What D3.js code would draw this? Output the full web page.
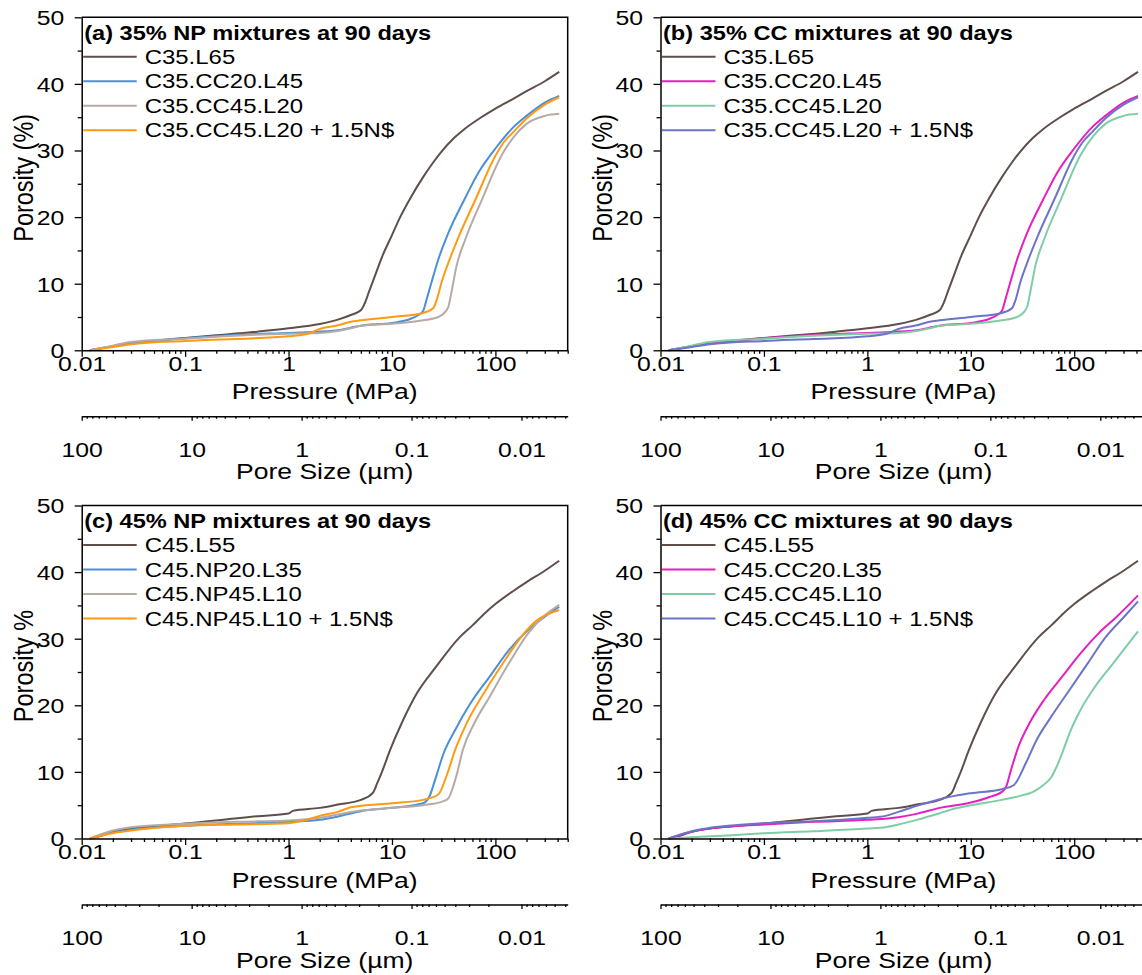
<!DOCTYPE html>
<html>
<head>
<meta charset="utf-8">
<script src="https://cdn.jsdelivr.net/npm/d3@7"></script>
<style>
  html, body { margin: 0; padding: 0; background: #fff; }
  svg { display: block; font-family: "Liberation Sans", Arial, sans-serif; }
</style>
</head>
<body>
<svg id="chart" width="1142" height="975"></svg>
<script>
// ---- MIP intrusion curves: [pressure (MPa), cumulative porosity (%)] ----
const C35_L65 = [[0.012,0],[0.016,0.35],[0.02,0.6],[0.03,1.1],[0.05,1.45],[0.1,1.85],[0.2,2.25],[0.5,2.8],[1,3.3],[2,3.95],[3,4.6],[4,5.3],[5,6.0],[5.5,7.2],[6,8.8],[7,11.6],[8,14.0],[10,17.3],[12,20.0],[15,22.8],[20,26.0],[25,28.2],[30,29.8],[40,31.9],[50,33.2],[70,34.8],[100,36.3],[150,37.8],[200,38.9],[300,40.4],[414,41.8]];
const C35_CC20_L45 = [[0.012,0],[0.02,0.6],[0.03,1.05],[0.05,1.4],[0.1,1.8],[0.3,2.3],[1,2.6],[1.5,2.7],[3,3.0],[4,3.4],[5,3.7],[10,4.1],[15,4.7],[18,5.3],[20,5.9],[21.5,7.5],[24,10.1],[28,13.6],[35,17.6],[50,22.6],[68,26.6],[100,30.3],[147,33.4],[200,35.2],[300,37.2],[414,38.2]];
const C35_CC45_L20 = [[0.012,0],[0.02,0.7],[0.03,1.25],[0.1,1.75],[0.3,2.2],[1,2.5],[2,2.6],[3,2.9],[4,3.3],[5,3.7],[10,4.0],[20,4.5],[28,5.0],[32,5.6],[35,6.5],[38,9.1],[42,12.6],[51,16.6],[74,22.6],[116,29.4],[150,32.0],[200,34.0],[300,35.2],[414,35.5]];
const C35_CC45_L20_NS = [[0.012,0],[0.02,0.5],[0.03,0.9],[0.1,1.4],[0.3,1.7],[1,2.1],[1.5,2.45],[2,3.2],[3,3.75],[4,4.3],[5,4.5],[10,5.0],[20,5.6],[25,6.3],[27,7.5],[30,10.1],[35,13.1],[44,17.0],[64,22.6],[100,29.2],[120,31.2],[150,32.8],[200,34.8],[300,36.9],[414,38.0]];

const C45_L55 = [[0.012,0],[0.016,0.5],[0.02,1.0],[0.03,1.5],[0.05,1.85],[0.1,2.25],[0.3,3.0],[0.5,3.35],[1,3.75],[1.1,4.15],[2,4.6],[3,5.1],[5,5.8],[6.5,6.8],[7.2,8.3],[8,10.0],[9.6,13.3],[12.4,17.3],[17.4,21.8],[26.7,25.8],[45,30.2],[60,32.0],[80,33.9],[100,35.2],[150,37.2],[200,38.5],[300,40.2],[414,41.7]];
const C45_NP20_L35 = [[0.012,0],[0.02,0.9],[0.03,1.3],[0.1,1.9],[0.3,2.2],[1,2.5],[2,2.8],[3,3.3],[5,4.1],[10,4.6],[20,5.3],[23,6.3],[26.7,9.3],[31.6,12.8],[40.8,16.3],[57.4,20.3],[88,24.3],[135,28.3],[207,31.3],[300,33.3],[414,34.8]];
const C45_NP45_L10 = [[0.012,0],[0.02,1.2],[0.03,1.7],[0.1,2.2],[0.3,2.5],[1,2.7],[2,3.1],[3,3.6],[5,4.2],[10,4.6],[20,5.0],[30,5.5],[35,6.0],[37.5,7.0],[42.6,9.8],[48.4,13.3],[62.5,17.3],[88,21.3],[135,26.3],[207,30.8],[290,33.3],[414,35.1]];
const C45_NP45_L10_NS = [[0.012,0],[0.02,0.8],[0.03,1.2],[0.1,1.9],[0.3,2.1],[1,2.3],[1.5,2.8],[2,3.4],[3,4.0],[4,4.7],[5,4.9],[10,5.3],[20,5.8],[28,6.6],[34.4,9.8],[40.8,13.3],[52.7,17.3],[80.7,22.3],[124,26.8],[174,30.1],[245,32.6],[414,34.3]];
const C45_CC20_L35 = [[0.012,0],[0.02,1.0],[0.03,1.5],[0.1,2.1],[0.3,2.5],[1,2.8],[2,3.2],[3,3.7],[5,4.6],[10,5.4],[15,6.2],[20,7.0],[22,7.8],[24.5,10.3],[28.9,13.8],[36.9,17.3],[51,20.8],[76.5,24.3],[115,27.8],[172,30.8],[258,33.3],[414,36.5]];
const C45_CC45_L10 = [[0.012,0],[0.02,0.2],[0.05,0.5],[0.1,0.8],[0.3,1.1],[1,1.5],[1.5,1.7],[2,2.1],[3,2.8],[5,3.8],[7,4.5],[10,5.0],[20,5.8],[30,6.4],[40,7.0],[50,8.0],[60,9.2],[65,10.2],[76.5,12.8],[90,15.8],[115,19.3],[159,22.8],[238,26.3],[414,31.1]];
const C45_CC45_L10_NS = [[0.012,0],[0.02,1.1],[0.03,1.6],[0.1,2.3],[0.3,2.6],[1,3.1],[1.5,3.4],[2,4.0],[3,4.9],[5,5.9],[7,6.4],[10,6.8],[20,7.4],[26,8.0],[34,11.3],[43.3,14.8],[60,18.3],[90,22.3],[135,26.3],[203,30.3],[304,33.3],[414,35.6]];

// ---- labels ----
const panelTitles = ["(a) 35% NP mixtures at 90 days", "(b) 35% CC mixtures at 90 days",
                     "(c) 45% NP mixtures at 90 days", "(d) 45% CC mixtures at 90 days"];
const legendA = ["C35.L65", "C35.CC20.L45", "C35.CC45.L20", "C35.CC45.L20 + 1.5N$"];
const legendB = ["C35.L65", "C35.CC20.L45", "C35.CC45.L20", "C35.CC45.L20 + 1.5N$"];
const legendC = ["C45.L55", "C45.NP20.L35", "C45.NP45.L10", "C45.NP45.L10 + 1.5N$"];
const legendD = ["C45.L55", "C45.CC20.L35", "C45.CC45.L10", "C45.CC45.L10 + 1.5N$"];
const yTitles = ["Porosity (%)", "Porosity (%)", "Porosity %", "Porosity %"];
const xTitle = "Pressure (MPa)";
const poreTitle = "Pore Size (\u00b5m)";
const yTicks = [0, 5, 10, 15, 20, 25, 30, 35, 40, 45, 50];
const pressureDomain = [0.01, 500];
const poreDomain = [100, 0.0038];

// ---- colours ----
const colNP = ["#5e4f4b", "#4a8fd8", "#b6aaa6", "#ff9a12"];
const colCC = ["#5e4f4b", "#e61fc0", "#7fcda5", "#6c74c8"];

// ---- layout ----
const S = 1.18;                 // horizontal text stretch
const tickFont = 21;
const plotW = 486, plotH = 333;
const colX = [81.7, 660.5];
const rowY = [17.3, 505.5];

const panels = [
  { title: panelTitles[0], names: legendA, colors: colNP, data: [C35_L65, C35_CC20_L45, C35_CC45_L20, C35_CC45_L20_NS], col: 0, row: 0, yTitle: yTitles[0] },
  { title: panelTitles[1], names: legendB, colors: colCC, data: [C35_L65, C35_CC20_L45, C35_CC45_L20, C35_CC45_L20_NS], col: 1, row: 0, yTitle: yTitles[1] },
  { title: panelTitles[2], names: legendC, colors: colNP, data: [C45_L55, C45_NP20_L35, C45_NP45_L10, C45_NP45_L10_NS], col: 0, row: 1, yTitle: yTitles[2] },
  { title: panelTitles[3], names: legendD, colors: colCC, data: [C45_L55, C45_CC20_L35, C45_CC45_L10, C45_CC45_L10_NS], col: 1, row: 1, yTitle: yTitles[3] }
];

const svg = d3.select("#chart");
const x = d3.scaleLog().domain(pressureDomain).range([0, plotW]);
const pore = d3.scaleLog().domain(poreDomain).range([0, plotW]);
const y = d3.scaleLinear().domain([0, 50]).range([plotH, 0]);

const isDecade = v => Math.abs(Math.log10(v) - Math.round(Math.log10(v))) < 1e-9;
const decadeLabel = v => isDecade(v) ? String(+v.toPrecision(3)) : "";

function stretchedText(g, tx, ty, str, opts) {
  const t = g.append("text")
    .attr("transform", `translate(${tx},${ty}) scale(${S},1)` + (opts.rotate ? " rotate(-90)" : ""))
    .attr("text-anchor", opts.anchor || "start")
    .attr("font-size", opts.size)
    .attr("font-weight", opts.weight || "normal")
    .attr("fill", "#000")
    .text(str);
  if (opts.dy) t.attr("dy", opts.dy);
  return t;
}

function styleAxis(a) {
  a.select(".domain").attr("stroke", "#000").attr("stroke-width", 1.5);
  a.selectAll(".tick line").attr("stroke", "#000").attr("stroke-width", 1.3);
  a.selectAll(".tick text").attr("fill", "#000").attr("font-size", tickFont)
    .attr("font-family", "Liberation Sans, Arial, sans-serif");
}

panels.forEach(p => {
  const g = svg.append("g").attr("transform", `translate(${colX[p.col]},${rowY[p.row]})`);

  // curves
  const line = d3.line().x(d => x(d[0])).y(d => y(d[1])).curve(d3.curveMonotoneX);
  p.data.forEach((ser, i) => {
    g.append("path").datum(ser).attr("d", line)
      .attr("fill", "none").attr("stroke", p.colors[i]).attr("stroke-width", 2)
      .attr("stroke-linejoin", "round");
  });

  // frame top & right
  g.append("path").attr("d", `M0,0H${plotW}V${plotH}`)
    .attr("fill", "none").attr("stroke", "#000").attr("stroke-width", 1.5);

  // bottom pressure axis
  const xa = g.append("g").attr("transform", `translate(0,${plotH})`)
    .call(d3.axisBottom(x).tickValues(x.ticks()).tickFormat(decadeLabel).tickSizeOuter(0));
  styleAxis(xa);
  xa.selectAll(".tick line").attr("y2", d => isDecade(d) ? 6.5 : 3.5);
  xa.selectAll(".tick text").attr("y", 21).attr("dy", 0).attr("transform", `scale(${S},1)`);

  // left porosity axis
  const ya = g.append("g")
    .call(d3.axisLeft(y).tickValues(yTicks).tickFormat(v => v % 10 === 0 ? v : "").tickSizeOuter(0));
  styleAxis(ya);
  ya.selectAll(".tick line").attr("x2", d => d % 10 === 0 ? -7 : -4);
  ya.selectAll(".tick text").attr("x", -17.5 / S).attr("dy", "0.35em").attr("transform", `scale(${S},1)`);

  // secondary pore-size axis
  const poreY = plotH + 66;
  const pa = g.append("g").attr("transform", `translate(0,${poreY})`)
    .call(d3.axisBottom(pore).tickValues(pore.ticks()).tickFormat(decadeLabel).tickSizeOuter(0));
  styleAxis(pa);
  pa.selectAll(".tick line").attr("y2", d => isDecade(d) ? 4.5 : 2.5);
  pa.selectAll(".tick text").attr("y", 41).attr("dy", 0).attr("transform", `scale(${S},1)`);

  // axis titles
  stretchedText(g, plotW / 2, plotH + 49, xTitle, { anchor: "middle", size: 22.5 });
  stretchedText(g, plotW / 2, poreY + 63, poreTitle, { anchor: "middle", size: 22.5 });
  stretchedText(g, -58, plotH / 2 - 6, p.yTitle, { anchor: "middle", size: 23.5, rotate: true, dy: "0.35em" });

  // panel title
  stretchedText(g, 2.5, 22.7, p.title, { size: 20, weight: "bold" });

  // legend
  p.names.forEach((name, i) => {
    const ly = 39.5 + i * 24.5;
    g.append("line").attr("x1", 1.5).attr("x2", 55).attr("y1", ly).attr("y2", ly)
      .attr("stroke", p.colors[i]).attr("stroke-width", 2);
    stretchedText(g, 63, ly + 7, name, { size: 20.3 });
  });
});
</script>
</body>
</html>
